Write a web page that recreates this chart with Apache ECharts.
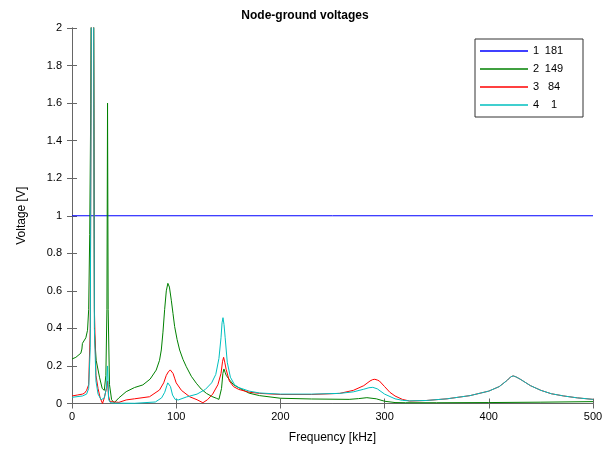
<!DOCTYPE html>
<html>
<head>
<meta charset="utf-8">
<script src="https://cdn.jsdelivr.net/npm/echarts@6/dist/echarts.min.js"></script>
<style>
  html, body { margin: 0; padding: 0; background: #fff; }
  #chart { width: 610px; height: 449px; }
</style>
</head>
<body>
<div id="chart"></div>
<script>
// legend labels: node number and node id
const nodeNums = ["1", "2", "3", "4"];
const nodeIds = ["181", "149", "84", "1"];
const colors = ["#0000ff", "#008000", "#ff0000", "#00bfbf"];

// node 1 (181)
const freq1 = [0, 500];
const volt1 = [1, 1];

// node 2 (149)
const freq2 = [0, 3.7, 8.5, 9.5, 10, 13.3, 14.9, 16, 17, 18, 18.8, 19.7, 20.6, 21.6, 23.2, 26.4, 29, 31, 32.5, 33.5, 34.1, 34.7, 36, 38, 40.5, 45, 52, 60, 68, 75, 80.8, 84, 85.7, 87.3, 88.9, 90.5, 92, 93.5, 95.3, 96.9, 98.5, 100.9, 103.3, 106.5, 109.7, 114.5, 119.3, 124, 129, 134, 138.5, 141, 143.5, 144.8, 145.8, 147, 148, 151.3, 155, 161, 170, 180, 200, 230, 266, 275, 283, 292, 300, 310, 320, 350, 400, 450, 500];
const volt2 = [0.237, 0.246, 0.268, 0.29, 0.32, 0.35, 0.39, 0.5, 0.9, 1.6, 2.6, 3.0, 2.6, 0.37, 0.23, 0.14, 0.08, 0.07, 0.15, 0.5, 1.6, 0.5, 0.1, 0.02, 0.004, 0.03, 0.063, 0.085, 0.099, 0.13, 0.178, 0.23, 0.285, 0.38, 0.5, 0.6, 0.64, 0.62, 0.55, 0.48, 0.41, 0.34, 0.285, 0.235, 0.196, 0.145, 0.108, 0.077, 0.054, 0.038, 0.028, 0.022, 0.08, 0.16, 0.184, 0.165, 0.15, 0.125, 0.1, 0.081, 0.055, 0.042, 0.028, 0.024, 0.022, 0.026, 0.031, 0.025, 0.012, 0.005, 0.004, 0.004, 0.005, 0.007, 0.01];

// node 3 (84)
const freq3 = [0, 5, 10, 12, 14, 16, 17.5, 18.8, 19.7, 20.6, 21.5, 23, 25, 27, 29.3, 31, 33, 34.1, 35, 36.5, 38, 45, 52, 60, 74.4, 84, 88, 90.5, 92.4, 94.3, 95.6, 97, 98.5, 100, 105, 112.9, 120, 125.6, 130, 135, 140, 143, 144.5, 145.5, 146.6, 148, 151, 155, 160, 170, 180, 200, 230, 257, 270, 280, 286, 288.5, 290.6, 293, 295, 300, 305, 310, 317, 324, 340, 360, 382, 400, 410, 418, 421, 423.4, 426, 430, 440, 450, 460, 472, 485, 500];
const volt3 = [0.04, 0.045, 0.05, 0.055, 0.07, 0.1, 0.4, 2.4, 3, 2.4, 0.5, 0.15, 0.08, 0.03, 0.0, 0.03, 0.08, 0.12, 0.04, 0.01, 0.005, 0.006, 0.019, 0.025, 0.036, 0.072, 0.11, 0.15, 0.168, 0.179, 0.172, 0.16, 0.135, 0.11, 0.07, 0.036, 0.02, 0.004, 0.02, 0.05, 0.1, 0.16, 0.225, 0.246, 0.22, 0.18, 0.12, 0.09, 0.075, 0.06, 0.054, 0.048, 0.048, 0.054, 0.07, 0.095, 0.12, 0.127, 0.129, 0.125, 0.12, 0.09, 0.06, 0.04, 0.022, 0.013, 0.016, 0.025, 0.042, 0.066, 0.09, 0.125, 0.142, 0.147, 0.142, 0.13, 0.095, 0.07, 0.052, 0.04, 0.03, 0.022];

// node 4 (1)
const freq4 = [0, 10, 14, 16, 17.5, 18.8, 19.7, 20.6, 21.5, 23, 25, 28, 31, 33, 34.1, 35.2, 37, 40, 60, 80, 86, 89, 91, 91.9, 92.7, 93.5, 94.5, 96.5, 99, 102, 110, 120, 128, 134, 138, 141, 143, 144, 144.9, 145.9, 147, 149, 152, 156, 160, 170, 180, 200, 230, 257, 270, 280, 285, 288.7, 293, 300, 310, 317, 324, 340, 360, 382, 400, 410, 418, 421, 423.4, 426, 430, 440, 450, 460, 472, 485, 500];
const volt4 = [0.033, 0.04, 0.05, 0.08, 0.3, 2.4, 3, 2.4, 0.4, 0.12, 0.05, 0.02, 0.03, 0.08, 0.2, 0.02, 0.004, 0.002, 0.001, 0.008, 0.03, 0.06, 0.095, 0.11, 0.115, 0.108, 0.09, 0.045, 0.022, 0.019, 0.035, 0.05, 0.075, 0.11, 0.155, 0.24, 0.35, 0.43, 0.457, 0.42, 0.35, 0.22, 0.14, 0.1, 0.085, 0.066, 0.056, 0.05, 0.05, 0.054, 0.062, 0.076, 0.084, 0.086, 0.078, 0.05, 0.025, 0.017, 0.014, 0.016, 0.025, 0.042, 0.066, 0.09, 0.125, 0.142, 0.147, 0.142, 0.13, 0.095, 0.07, 0.052, 0.04, 0.03, 0.022];

const freqs = [freq1, freq2, freq3, freq4];
const volts = [volt1, volt2, volt3, volt4];

const font = "Liberation Sans";
const axisColor = "#666";

function pairs(xs, ys) {
  return xs.map((x, i) => [x, ys[i]]);
}

const chart = echarts.init(document.getElementById("chart"));

const series = nodeNums.map((n, i) => ({
  name: n,
  type: "line",
  data: pairs(freqs[i], volts[i]),
  showSymbol: false,
  clip: true,
  lineStyle: { color: colors[i], width: 1 },
  itemStyle: { color: colors[i] },
  emphasis: { disabled: true }
}));

chart.setOption({
  animation: false,
  title: {
    text: "Node-ground voltages",
    left: "center",
    top: 5,
    textStyle: { fontFamily: font, fontSize: 12, fontWeight: "bold", color: "#000" }
  },
  grid: { left: 72, right: 17, top: 28, bottom: 45.5 },
  legend: {
    orient: "vertical",
    left: 475,
    top: 39,
    padding: [5, 16, 5, 5],
    itemGap: 4,
    itemWidth: 48,
    itemHeight: 1.5,
    itemTextGap: 4,
    icon: "rect",
    borderColor: "#333",
    borderWidth: 1,
    backgroundColor: "#fff",
    data: nodeNums,
    formatter: name => "{a|" + name + "}{b|" + nodeIds[nodeNums.indexOf(name)] + "}",
    textStyle: {
      fontFamily: font,
      fontSize: 11,
      color: "#000",
      lineHeight: 14,
      rich: {
        a: { width: 8, fontSize: 11, fontFamily: font, color: "#000" },
        b: { width: 26, align: "center", fontSize: 11, fontFamily: font, color: "#000" }
      }
    }
  },
  xAxis: [
    {
      type: "value",
      min: 0,
      max: 500,
      interval: 100,
      name: "Frequency [kHz]",
      nameLocation: "middle",
      nameGap: 28,
      nameTextStyle: { fontFamily: font, fontSize: 12, color: "#000" },
      axisLine: { lineStyle: { color: axisColor } },
      axisTick: { inside: true, length: 5, lineStyle: { color: axisColor } },
      axisLabel: { fontFamily: font, fontSize: 11, color: "#000", margin: 8 },
      splitLine: { show: false }
    },
    {
      type: "value",
      position: "top",
      min: 0,
      max: 500,
      interval: 100,
      axisLine: { lineStyle: { color: axisColor } },
      axisTick: { inside: true, length: 5, lineStyle: { color: axisColor } },
      axisLabel: { show: false },
      splitLine: { show: false }
    }
  ],
  yAxis: [
    {
      type: "value",
      min: 0,
      max: 2,
      interval: 0.2,
      name: "Voltage [V]",
      nameLocation: "middle",
      nameGap: 44,
      nameTextStyle: { fontFamily: font, fontSize: 12, color: "#000" },
      axisLine: { show: true, lineStyle: { color: axisColor } },
      axisTick: { show: true, inside: true, length: 5, lineStyle: { color: axisColor } },
      axisLabel: { fontFamily: font, fontSize: 11, color: "#000", margin: 10 },
      splitLine: { show: false }
    },
    {
      type: "value",
      position: "right",
      min: 0,
      max: 2,
      interval: 0.2,
      axisLine: { show: true, lineStyle: { color: axisColor } },
      axisTick: { show: true, inside: true, length: 5, lineStyle: { color: axisColor } },
      axisLabel: { show: false },
      splitLine: { show: false }
    }
  ],
  series: series
});
</script>
</body>
</html>
